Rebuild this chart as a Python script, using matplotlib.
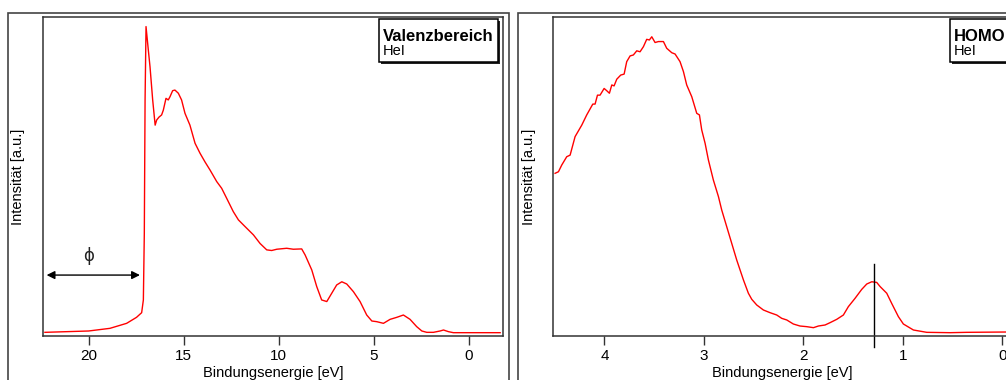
import numpy as np
import matplotlib
matplotlib.use("Agg")
import matplotlib.pyplot as plt
from matplotlib.patches import Rectangle

plt.rcParams['font.family'] = ['Liberation Sans', 'DejaVu Sans']

# Valenzbereich (binding energy in eV, intensity in a.u.)
val_e = [22.30, 20.00, 18.88, 18.00, 17.48, 17.21, 17.12, 17.07, 17.03, 16.98,
         16.86, 16.77, 16.63, 16.50, 16.42, 16.30, 16.16, 16.07, 15.93, 15.81,
         15.72, 15.58, 15.46, 15.28, 15.11, 14.93, 14.67, 14.40, 14.14, 13.88,
         13.61, 13.26, 13.00, 12.74, 12.39, 12.12, 11.77, 11.33, 10.98, 10.63,
         10.37, 10.10, 9.58, 9.23, 8.79, 8.61, 8.26, 8.00, 7.74, 7.47,
         7.21, 6.95, 6.68, 6.42, 6.07, 5.72, 5.37, 5.10, 4.84, 4.49,
         4.14, 3.79, 3.44, 3.09, 2.74, 2.47, 2.21, 1.86, 1.51, 1.33,
         1.07, 0.81, -1.65]
val_i = [1.15, 1.57, 2.40, 3.97, 5.85, 7.31, 11.3, 32.2, 74.0, 97.0,
         89.7, 84.4, 74.0, 66.1, 67.7, 68.6, 69.3, 70.8, 74.5, 74.0,
         75.0, 76.9, 77.1, 76.1, 74.0, 69.8, 66.1, 60.4, 57.3, 54.6,
         52.0, 48.4, 46.3, 43.2, 39.0, 36.4, 34.3, 31.7, 29.0, 27.0,
         26.8, 27.2, 27.5, 27.2, 27.3, 25.4, 20.7, 15.5, 11.3, 10.8,
         13.4, 16.0, 17.0, 16.3, 13.9, 10.8, 6.58, 4.70, 4.49, 3.97,
         5.22, 5.85, 6.58, 5.22, 2.93, 1.57, 1.15, 1.15, 1.57, 1.88,
         1.36, 1.04, 1.04]

# HOMO region
homo_e = [4.496, 4.462, 4.429, 4.379, 4.345, 4.295, 4.228, 4.178, 4.117, 4.094,
          4.070, 4.044, 4.003, 3.977, 3.950, 3.926, 3.903, 3.876, 3.836, 3.802,
          3.776, 3.742, 3.709, 3.675, 3.642, 3.608, 3.575, 3.548, 3.524, 3.491,
          3.457, 3.407, 3.374, 3.323, 3.290, 3.240, 3.206, 3.173, 3.122, 3.072,
          3.045, 3.022, 2.988, 2.955, 2.905, 2.854, 2.821, 2.771, 2.720, 2.670,
          2.603, 2.553, 2.519, 2.469, 2.402, 2.335, 2.268, 2.218, 2.167, 2.101,
          2.034, 1.967, 1.899, 1.849, 1.782, 1.732, 1.665, 1.598, 1.548, 1.481,
          1.414, 1.363, 1.313, 1.263, 1.229, 1.162, 1.112, 1.045, 0.995, 0.894,
          0.760, 0.526, 0.359, -0.037]
homo_i = [51.0, 51.5, 53.6, 56.2, 56.7, 62.5, 66.1, 69.3, 72.7, 72.7,
          75.5, 75.5, 77.6, 76.9, 76.1, 78.7, 78.4, 80.5, 81.8, 82.1,
          86.0, 87.8, 88.1, 89.4, 89.1, 90.7, 93.0, 92.8, 93.8, 92.0,
          92.3, 92.3, 90.2, 88.8, 88.4, 86.0, 82.9, 78.7, 75.0, 69.8,
          69.3, 64.6, 60.4, 55.2, 48.9, 43.7, 39.5, 34.3, 29.0, 23.8,
          17.6, 13.4, 11.5, 9.72, 8.15, 7.31, 6.58, 5.54, 5.02, 3.76,
          3.13, 2.93, 2.61, 3.13, 3.45, 4.18, 5.22, 6.58, 9.20, 11.8,
          14.6, 16.3, 17.0, 16.8, 15.5, 13.4, 10.2, 6.06, 3.76, 1.88,
          1.15, 1.04, 1.15, 1.25]

phi_start, phi_end, phi_level = 22.21, 17.30, 19.1
homo_mark = 1.287
xlabel = 'Bindungsenergie [eV]'
ylabel = 'Intensität [a.u.]'

W, H = 1006, 380
fig = plt.figure(figsize=(W / 100, H / 100), dpi=100)

# outer panel frames
for x0, w in [(8, 500.5), (518, 500)]:
    fig.patches.append(Rectangle((x0 / W, -0.1), w / W, (H - 13) / H + 0.1,
                                 transform=fig.transFigure, fill=False,
                                 ec='#444444', lw=1.2))

ax1 = fig.add_axes([43 / W, 44 / H, 460 / W, 319 / H])
ax2 = fig.add_axes([552.7 / W, 44 / H, 460 / W, 319 / H])

for ax in (ax1, ax2):
    ax.set_ylim(0, 100)
    ax.set_yticks([])
    ax.tick_params(axis='x', direction='out', length=6.5, width=1,
                   labelsize=11, pad=3, color='#333333')
    for s in ax.spines.values():
        s.set_linewidth(1.1)
        s.set_color('#333333')
    ax.set_xlabel(xlabel, fontsize=10.5, labelpad=2)
    ax.set_ylabel(ylabel, fontsize=10.5)

ax1.plot(val_e, val_i, color='red', lw=1)
ax1.set_xlim(22.4, -1.8)
ax1.set_xticks([20, 15, 10, 5, 0])
ax1.yaxis.set_label_coords(-0.040, 0.5)

ax2.plot(homo_e, homo_i, color='red', lw=1)
ax2.set_xlim(4.52, -0.104)
ax2.set_xticks([4, 3, 2, 1, 0])
ax2.yaxis.set_label_coords(-0.036, 0.5)

# work function arrow
ax1.annotate('', xy=(phi_end, phi_level), xytext=(phi_start, phi_level),
             arrowprops=dict(arrowstyle='<|-|>', color='black', lw=1,
                             mutation_scale=12, shrinkA=0, shrinkB=0))
ax1.text((phi_start + phi_end) / 2 + 0.25, 25.1, 'ϕ', ha='center', va='center',
         fontsize=12, family=['DejaVu Sans'], color='#222222')

# HOMO marker line
ax2.plot([homo_mark, homo_mark], [22.6, -3.5], color='black', lw=1,
         clip_on=False)


def label_box(ax, x0, w, title):
    sx, sy = 2 / 460, 2 / 319
    y0, h = (336 - 62) / 319, 43 / 319
    ax.add_patch(Rectangle((x0 + sx, y0 - sy), w, h, transform=ax.transAxes,
                           fc='#222222', ec='none', clip_on=False, zorder=4))
    ax.add_patch(Rectangle((x0, y0), w, h, transform=ax.transAxes,
                           fc='white', ec='black', lw=1.1, clip_on=False,
                           zorder=5))
    ax.text(x0 + 0.008, (336 - 41) / 319, title, transform=ax.transAxes,
            fontsize=12, fontweight='bold', va='baseline', zorder=6)
    ax.text(x0 + 0.008, (336 - 55) / 319, 'HeI', transform=ax.transAxes,
            fontsize=10.5, va='baseline', zorder=6)


label_box(ax1, 0.7304, 0.2587, 'Valenzbereich')
label_box(ax2, 0.8637, 0.2587, 'HOMO')

fig.savefig('out.png', dpi=100)
